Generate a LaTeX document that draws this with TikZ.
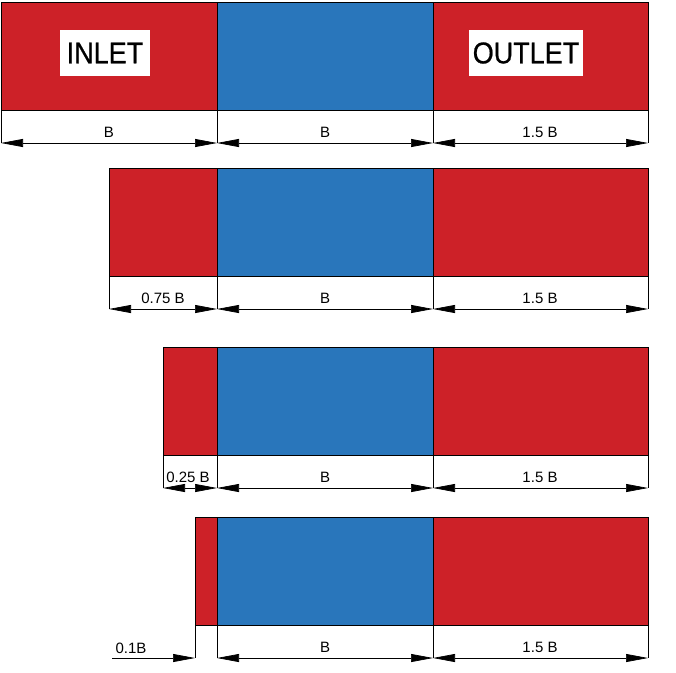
\documentclass[tikz,border=0pt]{standalone}
\usepackage{fontspec}
\setmainfont{Liberation Sans}
\newfontfamily\tagfont[FakeBold=0.8]{Liberation Sans}
\usetikzlibrary{arrows.meta}
\definecolor{inred}{RGB}{205,33,40}
\definecolor{midblue}{RGB}{41,118,187}
\tikzset{
  zone/.style={draw=black, line width=0.9pt},
  extl/.style={draw=black, line width=0.7pt},
  dimline/.style={draw=black, line width=0.7pt, {Triangle[length=22pt,width=8pt]}-{Triangle[length=22pt,width=8pt]}},
  onedim/.style={draw=black, line width=0.7pt, -{Triangle[length=22pt,width=8pt]}},
  lbl/.style={font=\fontsize{15}{17}\selectfont, inner sep=0pt},
  tag/.style={fill=white, inner sep=0pt, minimum height=46pt, font=\tagfont\fontsize{30}{32}\selectfont}
}
\begin{document}
\begin{tikzpicture}[x=1pt,y=-1pt]
\useasboundingbox (0,0) rectangle (676,672);
\foreach \t/\l/\d in {2/1/143,168/109/309,347/163/488,517/195/658}{
  \fill[inred] (\l,\t) rectangle (217,\t+108);
  \fill[midblue] (217,\t) rectangle (433,\t+108);
  \fill[inred] (433,\t) rectangle (648,\t+108);
  \draw[zone] (\l,\t) rectangle (648,\t+108);
  \draw[zone] (217,\t) -- (217,\t+108);
  \draw[zone] (433,\t) -- (433,\t+108);
  \coordinate (L) at (\l,\d);
  \coordinate (M) at (217,\d);
  \coordinate (N) at (433,\d);
  \coordinate (R) at (648,\d);
  \draw[extl] (\l,\t+108) -- (L);
  \draw[extl] (217,\t+108) -- (M);
  \draw[extl] (433,\t+108) -- (N);
  \draw[extl] (648,\t+108) -- (R);
  \draw[dimline] (M) -- (N);
  \draw[dimline] (N) -- (R);
  \node[lbl] (bmid) at (325,\d-11) {B};
  \node[lbl] (bout) at (540,\d-11) {1.5 B};
}
% inlet dimensions
\draw[dimline] (1,143) -- (217,143);
\node[lbl] (b1) at (109,132) {B};
\draw[dimline] (109,309) -- (217,309);
\node[lbl] (b2) at (163,298) {0.75 B};
\draw[dimline] (163,488) -- (217,488);
\node[lbl] (b3) at (188,477) {0.25 B};
\coordinate (s4) at (112,658);
\coordinate (e4) at (195,658);
\draw[onedim] (s4) -- (e4);
\node[lbl] (b4) at (131,648) {0.1B};
% tags
\node[tag, minimum width=90pt] (inlet) at (105,53) {\scalebox{0.9}[1]{INLET}};
\node[tag, minimum width=114pt] (outlet) at (526,53) {\scalebox{0.9}[1]{OUTLET}};
\end{tikzpicture}
\end{document}
